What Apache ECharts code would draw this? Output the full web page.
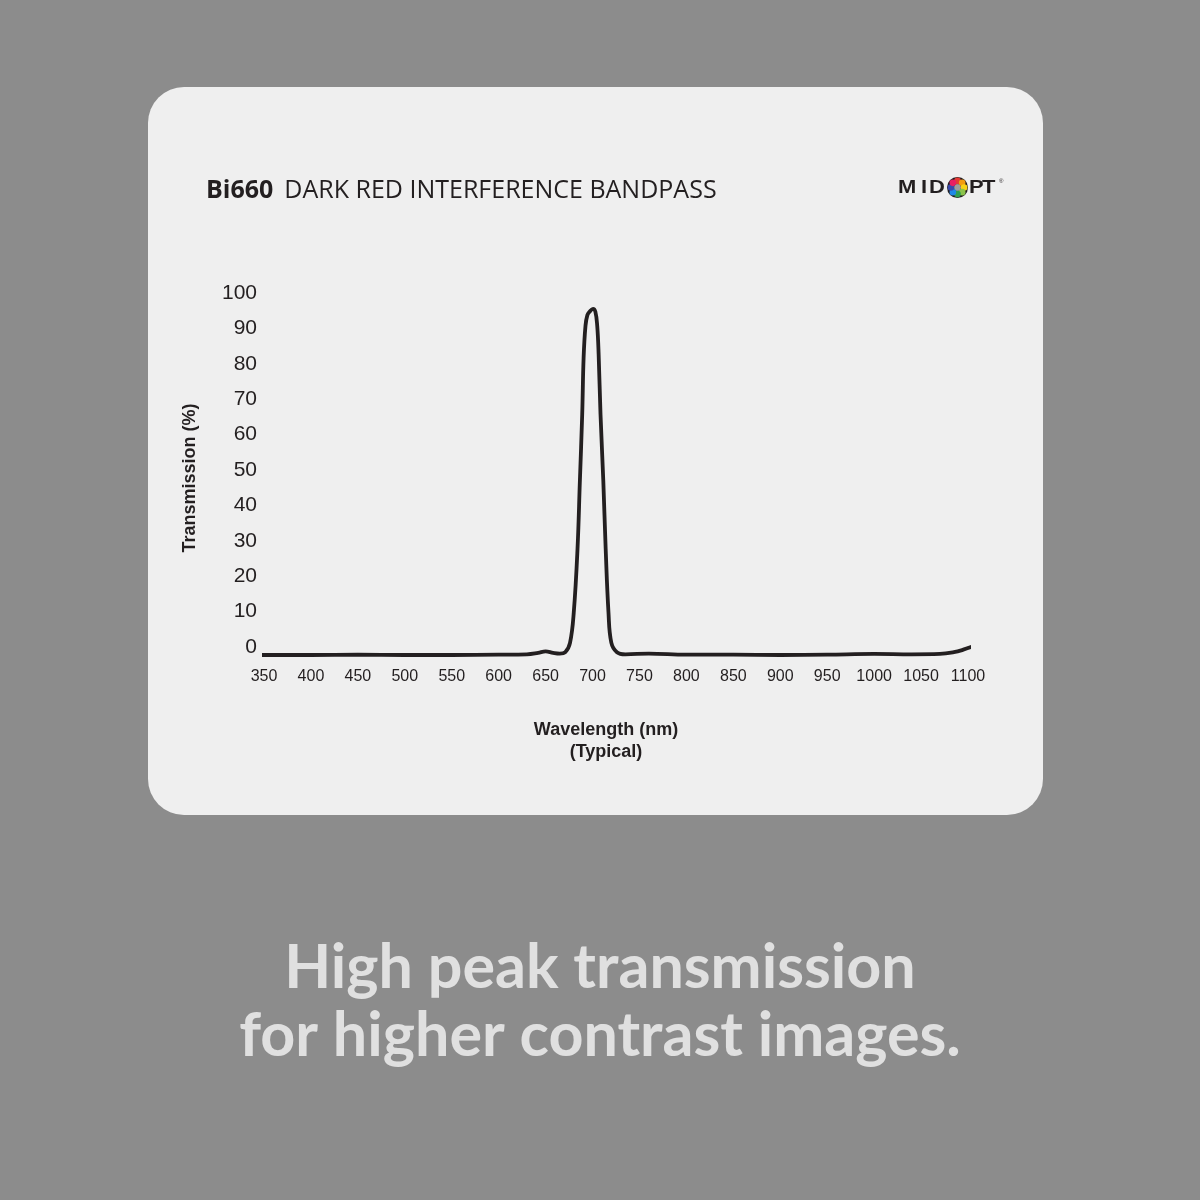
<!DOCTYPE html>
<html><head><meta charset="utf-8">
<script src="https://cdn.jsdelivr.net/npm/echarts@6/dist/echarts.min.js"></script>
<style>html,body{margin:0;padding:0;background:#8c8c8c}#c{width:1200px;height:1200px}</style>
</head><body><div id="c"></div>
<script>
const wavelengths = [345,350,400,450,500,550,600,630,642,650,658,665,671,676,680,684,686.5,689,690.5,692.5,694.5,697,700.5,703,705,706.5,708.5,711.5,714,717,720,726,735,760,800,850,900,950,1000,1040,1070,1085,1095,1107];
const transmission = [0,0,0,0.1,0,0,0.1,0.2,0.6,1.0,0.6,0.4,0.8,3.4,12,30,49,68,84,93,96,97,97.8,97,93,85,68,49,30,12,3.5,0.8,0.2,0.4,0.1,0.1,0,0.1,0.3,0.2,0.3,0.8,1.5,2.6];
const xTicks = {min:350, max:1100, step:50};
const yTicks = {min:0, max:100, step:10};
const titleCode = 'Bi660';
const titleText = 'DARK RED INTERFERENCE BANDPASS';
const yName = 'Transmission (%)';
const xName = 'Wavelength (nm)\n(Typical)';
const tagline = ['High peak transmission', 'for higher contrast images.'];
const logoLetters = [['M',898],['I',921],['D',929],['P',969],['T',982]];
const logoDots = ['#e53935','#f39c12','#f7d117','#8bc34a','#2e9e4f','#1e88e5','#3949ab','#e91e63'];

const points = wavelengths.map((w,i)=>[w, transmission[i]]);
const chart = echarts.init(document.getElementById('c'), null, {renderer:'canvas'});

const dotEls = logoDots.map((col,i)=>{
  const a = -Math.PI/2 + i*2*Math.PI/logoDots.length;
  return {type:'circle', shape:{cx:957.5+6.6*Math.cos(a), cy:187.5+6.6*Math.sin(a), r:3.3}, style:{fill:col}, z:10};
});
const letterEls = logoLetters.map(([ch,x])=>({type:'text', x:x, y:188, scaleX:1.22, style:{text:ch, x:0, y:0, font:'bold 18px "Liberation Sans"', fill:'#231f20', textVerticalAlign:'middle'}, z:10}));

chart.setOption({
  backgroundColor:'#8c8c8c',
  animation:false,
  grid:{left:264, right:232, top:301, bottom:545, containLabel:false},
  title:{
    text:'{b|'+titleCode+'}{n|'+titleText+'}',
    left:201, top:173,
    textStyle:{rich:{
      b:{fontFamily:'Open Sans', fontWeight:'bold', fontSize:25, color:'#231f20', padding:[0,11,0,0]},
      n:{fontFamily:'Open Sans', fontWeight:'normal', fontSize:25, color:'#231f20'}
    }}
  },
  xAxis:{
    type:'value', min:xTicks.min, max:xTicks.max, interval:xTicks.step,
    axisLine:{show:false}, axisTick:{show:false}, splitLine:{show:false},
    axisLabel:{color:'#231f20', fontFamily:'Liberation Sans', fontSize:16, margin:14, formatter:(v)=>String(v)},
    name:xName, nameLocation:'middle', nameGap:64,
    nameTextStyle:{color:'#231f20', fontFamily:'Liberation Sans', fontWeight:'bold', fontSize:18, lineHeight:22, padding:[0,20,0,0], verticalAlign:'top'}
  },
  yAxis:{
    type:'value', min:yTicks.min, max:yTicks.max, interval:yTicks.step,
    axisLine:{show:false}, axisTick:{show:false}, splitLine:{show:false},
    axisLabel:{color:'#231f20', fontFamily:'Liberation Sans', fontSize:21, margin:7, verticalAlign:'bottom', lineHeight:16},
    name:yName, nameLocation:'middle', nameGap:65, nameRotate:90,
    nameTextStyle:{color:'#231f20', fontFamily:'Liberation Sans', fontWeight:'bold', fontSize:18}
  },
  series:[{
    type:'line', data:points, showSymbol:false, clip:false,
    smooth:0.4,
    lineStyle:{color:'#231f20', width:3.8}
  }],
  graphic:[
    {type:'rect', shape:{x:148, y:87, width:895, height:728, r:36}, style:{fill:'#efefef'}, z:-10, silent:true},
    ...letterEls,
    {type:'circle', shape:{cx:957.5, cy:187.5, r:10.5}, style:{fill:'#231f20'}, z:9},
    {type:'circle', shape:{cx:957.5, cy:187.5, r:3.4}, style:{fill:'#9e9e9e'}, z:10},
    ...dotEls,
    {type:'text', style:{text:'®', x:999, y:181, font:'6px "Liberation Sans"', fill:'#231f20', textVerticalAlign:'middle'}, z:10},
    {type:'text', style:{text:tagline[0], x:600, y:968, font:'bold 61px "Lato"', fill:'#e0e0e0', textAlign:'center', textVerticalAlign:'middle'}},
    {type:'text', style:{text:tagline[1], x:600, y:1036, font:'bold 61px "Lato"', fill:'#e0e0e0', textAlign:'center', textVerticalAlign:'middle'}}
  ]
});
</script></body></html>
